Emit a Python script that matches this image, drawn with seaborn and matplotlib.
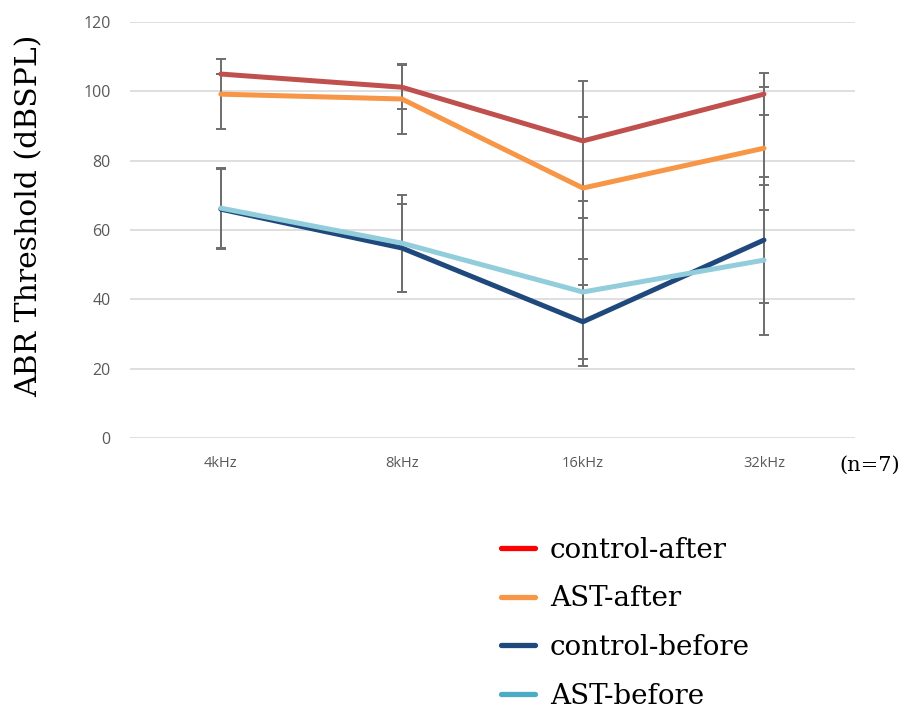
import numpy as np
import pandas as pd
import matplotlib.pyplot as plt
from matplotlib.lines import Line2D
import seaborn as sns

# ── Data ───────────────────────────────────────────────────────────────────────
FREQS = ["4kHz", "8kHz", "16kHz", "32kHz"]

control_after  = [105.0, 101.2, 85.7, 99.2]
ast_after      = [99.2, 97.8, 72.1, 83.6]
control_before = [66.0, 54.8, 33.5, 57.1]
ast_before     = [66.3, 56.2, 42.1, 51.3]

control_after_err  = [0.0, 6.4, 17.4, 6.0]
ast_after_err      = [10.1, 10.0, 20.5, 17.7]
control_before_err = [11.5, 12.7, 10.7, 18.3]
ast_before_err     = [11.5, 14.0, 21.3, 21.6]

SERIES = ["control-after", "AST-after", "control-before", "AST-before"]
LINE_COLORS   = ["#C0504D", "#F79646", "#1F497D", "#92CDDC"]
LEGEND_COLORS = ["#FF0000", "#F79646", "#1F497D", "#4BACC6"]

# ── Long table for seaborn ─────────────────────────────────────────────────────
values = [control_after, ast_after, control_before, ast_before]
errors = [control_after_err, ast_after_err, control_before_err, ast_before_err]
df = pd.DataFrame({
    "freq":   FREQS * len(SERIES),
    "x":      list(range(len(FREQS))) * len(SERIES),
    "series": np.repeat(SERIES, len(FREQS)),
    "value":  np.concatenate(values),
    "err":    np.concatenate(errors),
})

sns.set_style("white")
SERIF = ["DejaVu Serif"]
SANS = ["Open Sans", "DejaVu Sans"]

fig = plt.figure(figsize=(9.11, 7.12), dpi=100)
ax = fig.add_axes([0.143, 0.385, 0.795, 0.584])

# error bars first, lines on top
for s in SERIES:
    sub = df[df["series"] == s]
    ax.errorbar(sub["x"], sub["value"], yerr=sub["err"], fmt="none",
                ecolor="#6E6E6E", elinewidth=1.4, capsize=3.8, capthick=1.4,
                zorder=2)

sns.lineplot(data=df, x="x", y="value", hue="series",
             hue_order=SERIES, palette=dict(zip(SERIES, LINE_COLORS)),
             linewidth=3.6, legend=False, ax=ax, zorder=3)

ax.set_xlim(-0.5, 3.5)
ax.set_ylim(0, 120)
ax.set_yticks(range(0, 121, 20))
ax.set_xticks(range(len(FREQS)))
ax.set_xticklabels(FREQS)
ax.yaxis.grid(True, color="#D9D9D9", linewidth=1.2)
ax.xaxis.grid(False)
for sp in ax.spines.values():
    sp.set_visible(False)
ax.tick_params(axis="y", length=0, labelsize=11.5, labelcolor="#595959", pad=14)
ax.tick_params(axis="x", length=0, labelsize=10.5, labelcolor="#595959", pad=13)
for lbl in ax.get_xticklabels() + ax.get_yticklabels():
    lbl.set_family(SANS)

ax.set_xlabel("")
ax.set_ylabel("ABR Threshold (dBSPL)", fontsize=21.5, family=SERIF,
              color="black")
ax.yaxis.set_label_coords(-0.12, 0.535)

fig.text(0.955, 0.346, "(n=7)", fontsize=15, family=SERIF,
         ha="center", va="center", color="black")

handles = [Line2D([0], [0], color=c, linewidth=3.8) for c in LEGEND_COLORS]
fig.legend(handles, SERIES, loc="upper left", bbox_to_anchor=(0.538, 0.262),
           frameon=False, prop={"family": SERIF, "size": 20},
           handlelength=1.2, handletextpad=0.55, labelspacing=0.78,
           borderaxespad=0, labelcolor="black")

fig.savefig("out.png", dpi=100)
